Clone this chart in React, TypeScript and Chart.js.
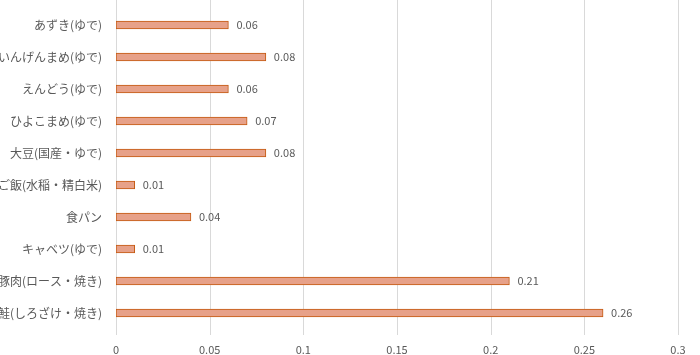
import React, { useEffect, useRef } from "react";
import { Chart, registerables } from "chart.js";

Chart.register(...registerables);

const categories = [
  "あずき(ゆで)",
  "いんげんまめ(ゆで)",
  "えんどう(ゆで)",
  "ひよこまめ(ゆで)",
  "大豆(国産・ゆで)",
  "ご飯(水稲・精白米)",
  "食パン",
  "キャベツ(ゆで)",
  "豚肉(ロース・焼き)",
  "鮭(しろざけ・焼き)",
];
const values = [0.06, 0.08, 0.06, 0.07, 0.08, 0.01, 0.04, 0.01, 0.21, 0.26];
const xTicks = [0, 0.05, 0.1, 0.15, 0.2, 0.25, 0.3];

const TEXT = "#595959";
const GRID = "#d9d9d9";
const FONT = "'Noto Sans CJK JP', 'Noto Sans', sans-serif";

const gridPlugin = {
  id: "customGrid",
  beforeDatasetsDraw(chart: any) {
    const ctx = chart.ctx;
    const xs = chart.scales.x;
    const area = chart.chartArea;
    ctx.save();
    ctx.strokeStyle = GRID;
    ctx.lineWidth = 1;
    xTicks.forEach((t) => {
      const x = Math.round(xs.getPixelForValue(t)) + 0.5;
      ctx.beginPath();
      ctx.moveTo(x, 0);
      ctx.lineTo(x, area.bottom + 6);
      ctx.stroke();
    });
    ctx.restore();
  },
};

const labelPlugin = {
  id: "dataLabels",
  afterDatasetsDraw(chart: any) {
    const ctx = chart.ctx;
    const meta = chart.getDatasetMeta(0);
    ctx.save();
    ctx.font = `11px ${FONT}`;
    ctx.fillStyle = TEXT;
    ctx.textAlign = "left";
    ctx.textBaseline = "middle";
    meta.data.forEach((bar: any, i: number) => {
      ctx.fillText(String(values[i]), bar.x + 8, bar.y);
    });
    ctx.restore();
  },
};

export default function App() {
  const ref = useRef<HTMLCanvasElement>(null);
  useEffect(() => {
    if (!ref.current) return;
    const chart = new Chart(ref.current, {
      type: "bar",
      data: {
        labels: categories,
        datasets: [
          {
            data: values,
            backgroundColor: "#E7A189",
            borderColor: "#C55A11",
            borderWidth: 1,
            borderSkipped: false,
            barThickness: 8,
          },
        ],
      },
      options: {
        indexAxis: "y",
        responsive: false,
        animation: false,
        layout: { padding: { top: 9, right: 22, bottom: 0, left: 0 } },
        plugins: { legend: { display: false }, tooltip: { enabled: false } },
        scales: {
          x: {
            min: 0,
            max: 0.3,
            afterBuildTicks: (scale: any) => {
              scale.ticks = xTicks.map((v) => ({ value: v }));
            },
            afterFit: (scale: any) => {
              scale.height = 26;
              scale.paddingLeft = 0;
              scale.paddingRight = 0;
            },
            grid: { display: false, drawTicks: false },
            border: { display: false },
            ticks: {
              color: TEXT,
              font: { family: FONT, size: 11 },
              padding: 14,
              maxRotation: 0,
              callback: (v: any) => String(Number(v)),
            },
          },
          y: {
            grid: { display: false, drawTicks: false },
            border: { display: false },
            afterFit: (scale: any) => {
              scale.width = 116;
              scale.paddingTop = 0;
              scale.paddingBottom = 0;
            },
            ticks: {
              color: TEXT,
              font: { family: FONT, size: 12 },
              padding: 14,
              autoSkip: false,
            },
          },
        },
      },
      plugins: [gridPlugin, labelPlugin],
    });
    return () => chart.destroy();
  }, []);
  return (
    <div style={{ position: "absolute", left: 0, top: 0, width: 700, height: 355, background: "#fff" }}>
      <canvas ref={ref} width={700} height={355} style={{ display: "block" }} />
    </div>
  );
}
